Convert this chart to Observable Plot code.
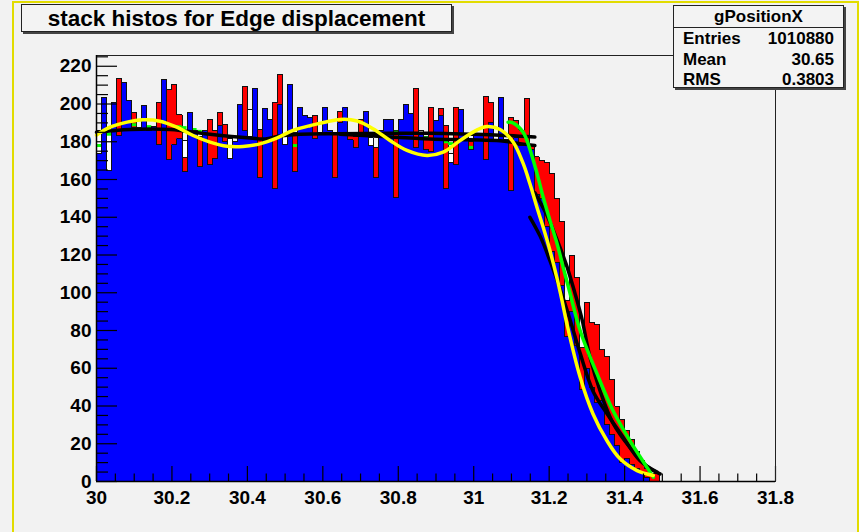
<!DOCTYPE html>
<html><head><meta charset="utf-8">
<script src="https://cdn.jsdelivr.net/npm/d3@7"></script>
<script src="https://cdn.jsdelivr.net/npm/@observablehq/plot@0.6"></script>
<style>
html,body{margin:0;padding:0;background:#f2f2f2;}
#wrap{position:relative;width:859px;height:532px;overflow:hidden;background:#f2f2f2;font-family:'Liberation Sans',Arial,Helvetica,sans-serif;font-weight:bold;color:#000}
#wrap svg{position:absolute;left:0;top:0}
.border{position:absolute;left:12px;top:1px;width:847px;height:600px;box-sizing:border-box;border:2px solid #e2dc00;pointer-events:none}
.title{position:absolute;left:21px;top:4px;width:431px;height:28px;box-sizing:border-box;border:1px solid #222;box-shadow:2px 2px 0 #444;background:#f3f3f3;font-size:22.5px;line-height:26px;padding-top:1px;text-align:center;white-space:nowrap}
.stats{position:absolute;left:673px;top:5px;width:171px;height:83px;box-sizing:border-box;border:1px solid #222;box-shadow:2px 2px 0 #444;background:#f3f3f3;font-size:17px}
.stats .hd{position:absolute;left:0;top:0;width:100%;height:21px;line-height:21px;text-align:center;border-bottom:1px solid #222}
.stats .row{position:absolute;left:9px;right:9px;height:20px;line-height:20px}
.stats .row span.v{position:absolute;right:0;top:0}
</style>
</head><body>
<div id="wrap">
  <div id="chart"></div>
  <div class="border"></div>
  <div class="title">stack histos for Edge displacement</div>
  <div class="stats">
    <div class="hd">gPositionX</div>
    <div class="row" style="top:23px"><span>Entries</span><span class="v">1010880</span></div>
    <div class="row" style="top:43.5px"><span>Mean</span><span class="v">30.65</span></div>
    <div class="row" style="top:64px"><span>RMS</span><span class="v">0.3803</span></div>
  </div>
</div>
<script>
// ---- histogram binning (bins of width 2/150 starting at 30) ----
const binLow = 30;
const binWidth = 2 / 150;

// blue histogram (front)
const blue = [
174, 203.6, 165, 201, 183.3, 211.6, 202, 187.7, 187.7, 199.2,
186, 188, 178.4, 213, 170.4, 178.4, 181.5, 164, 195.6, 186,
166.8, 186, 167.7, 171, 188.6, 180, 171, 180, 199.7, 186,
182.7, 208, 161.2, 197.5, 192, 155, 200, 178.6, 210.3, 164,
198, 194, 193, 181.5, 185, 198, 186, 161, 190, 198,
181, 177, 183, 196, 178, 161, 186, 192, 191.6, 150.6,
191.6, 200, 195, 177, 184, 176, 175, 191, 194, 155,
169, 168, 197, 184, 176, 184, 184, 170.5, 190, 181,
203.6, 181, 154, 182, 178, 179, 176, 152, 150, 135,
122, 116, 104, 77, 90, 72, 49, 60, 50, 42,
43, 30, 25, 19, 10, 12, 9, 7, 5, 2,
0, 0
];
// red histogram (behind blue) — only where it shows
const red = [
null, null, null, null, 213.4, null, null, 195.6, null, null,
null, null, 201, null, 207.5, 210.3, 194.4, 171.8, null, null,
182.7, null, 192, 186, 195.6, 189, null, null, null, 209.3,
null, null, 186.3, null, null, 201, 215.6, null, null, 185,
null, null, null, 194, null, null, null, 184, 196, null,
184, 183, 191.6, null, null, 177, null, null, null, 186,
null, null, null, 208, null, 183, 198, null, 197.5, 188.6,
null, 198, null, null, 180, null, null, 204, 201, null,
null, null, 193, 191, 186, 203, 178, 172, 170, 169,
163, 150, 138, 96, 120, 108, 71, 95, 84, 83,
70, 66, 54, 40, 33, 27, 22, 16, 11, 7,
4, 4
];
// white histogram (back-most)
const white = [
186, null, 184, null, null, null, null, null, null, null,
null, null, null, null, null, null, null, 180.6, null, null,
null, null, null, null, null, null, 181.5, null, null, null,
197, null, null, null, null, null, null, 184, null, null,
null, null, null, null, null, null, null, null, null, null,
null, null, null, null, 182, null, null, null, null, null,
null, null, null, null, 186, null, null, null, null, null,
174, null, null, null, null, null, null, null, null, null,
null, null, null, null, null, null, null, null, null, null,
null, null, null, null, null, null, null, null, null, null,
null, null, null, null, null, null, null, null, null, null,
null, null
];
// green histogram line (visible pieces)
const greenBin = [0, 2, 7, 10, 16, 17, 19, 20, 21, 39, 50, 59, 60, 64, 65, 69, 70, 74];
const greenVal = [178, 184, 189, 188, 188, 187.5, 186.5, 185.5, 185, 178, 180, 185, 185, 182, 182, 180, 179, 177];

// fitted curves
const yellowX = [30.00, 30.036, 30.081, 30.123, 30.168, 30.213, 30.256, 30.301, 30.346, 30.388, 30.433, 30.479, 30.521, 30.566, 30.646, 30.691, 30.733, 30.778, 30.823, 30.876, 30.919, 30.964, 31.009, 31.035, 31.070, 31.104, 31.131, 31.149, 31.168, 31.184, 31.202, 31.221, 31.234, 31.247, 31.282, 31.316, 31.353, 31.388, 31.433, 31.476];
const yellowY = [183.5, 187.7, 190.4, 191.6, 190.9, 187.7, 183.3, 179.8, 177.6, 177.5, 178.9, 182.1, 186, 188.5, 191.8, 191, 186.9, 180.7, 175.4, 172.7, 174.5, 180.7, 186.3, 188.1, 186.5, 180, 168.5, 157.7, 145, 134.8, 122.4, 107.5, 96, 83.5, 55.3, 35.9, 21.7, 12, 5.8, 3.2];
const greenFitX = [31.091, 31.104, 31.131, 31.149, 31.168, 31.184, 31.202, 31.221, 31.237, 31.255, 31.282, 31.327, 31.369, 31.414, 31.459, 31.476];
const greenFitY = [190.4, 190, 185, 176, 163, 150.7, 138.3, 126, 113.6, 100, 80, 57, 37.6, 21.7, 7.6, 2.3];
const blackOuterX = [31.162, 31.194, 31.221, 31.247, 31.268, 31.287, 31.308, 31.335, 31.369, 31.414, 31.459, 31.494];
const blackOuterY = [153, 141, 128, 114, 100, 86, 66, 48, 31, 18, 8, 4];
const blackInnerX = [31.149, 31.176, 31.202, 31.229, 31.255, 31.282, 31.316, 31.353, 31.396, 31.441, 31.486];
const blackInnerY = [140, 130, 117, 102, 86, 68, 48, 36, 23.5, 11, 5];
const blackFlat1X = [30.00, 30.089, 30.195, 30.301, 30.407, 30.447, 30.486, 30.540, 30.646, 30.778, 30.884, 30.990, 31.070, 31.162];
const blackFlat1Y = [185, 186.5, 186.5, 184, 182, 181.5, 183, 184, 184.3, 184.5, 184.5, 184, 183.5, 182.5];
const blackFlat2X = [30.646, 30.778, 30.884, 30.990, 31.070, 31.123, 31.162];
const blackFlat2Y = [184, 182.5, 181.5, 181, 180.5, 179, 178];

// axis ticks
const yMajor = [0, 20, 40, 60, 80, 100, 120, 140, 160, 180, 200, 220];
const xMajor = [30, 30.2, 30.4, 30.6, 30.8, 31, 31.2, 31.4, 31.6, 31.8];
const yMinor = d3.range(0, 226, 5).filter(v => v % 20 !== 0);
const xMinor = d3.range(0, 37).map(i => 30 + i * 0.05).filter((v, i) => i % 4 !== 0);

// ---- build ----
const edge = k => binLow + k * binWidth;
const bins = blue.map((b, k) => ({x1: edge(k), x2: edge(k + 1), blue: b, red: red[k], white: white[k]}));
const step = vals => {
  const pts = [{x: edge(0), y: 0}];
  vals.forEach((v, k) => pts.push({x: edge(k), y: v == null ? 0 : v}));
  pts.push({x: edge(vals.length), y: 0});
  return pts;
};
const pts = (xs, ys) => xs.map((x, i) => ({x, y: ys[i]}));
const greenSegs = greenBin.map((k, i) => ({x1: edge(k), x2: edge(k + 1), v: greenVal[i]}));

const W = 859, H = 532, mL = 96, mR = 84, mT = 55, mB = 51;
const fw = W - mL - mR, fh = H - mT - mB;
const outline = {curve: "step-after", stroke: "#111", strokeWidth: 1, shapeRendering: "crispEdges"};
const fit = c => ({x: "x", y: "y", curve: "catmull-rom", stroke: c, strokeWidth: 3.5, strokeLinecap: "round"});

const chart = Plot.plot({
  width: W, height: H,
  marginLeft: mL, marginRight: mR, marginTop: mT, marginBottom: mB,
  x: {domain: [30, 31.8]},
  y: {domain: [0, 225.7]},
  style: {background: "transparent", fontFamily: "'Liberation Sans', Arial, Helvetica, sans-serif", fontSize: "19px", fontWeight: "bold", color: "#000", overflow: "visible"},
  marks: [
    Plot.rect(bins.filter(d => d.white != null), {x1: "x1", x2: "x2", y1: 0, y2: "white", fill: "#ffffff", inset: 0, shapeRendering: "crispEdges"}),
    Plot.line(step(white), {x: "x", y: "y", ...outline}),
    Plot.rect(bins.filter(d => d.red != null), {x1: "x1", x2: "x2", y1: 0, y2: "red", fill: "#ff0000", inset: 0, shapeRendering: "crispEdges"}),
    Plot.line(step(red), {x: "x", y: "y", ...outline}),
    Plot.ruleY(greenSegs, {y: "v", x1: "x1", x2: "x2", stroke: "#00ff00", strokeWidth: 3}),
    Plot.rect(bins, {x1: "x1", x2: "x2", y1: 0, y2: "blue", fill: "#0000ff", inset: 0, shapeRendering: "crispEdges"}),
    Plot.line(step(blue), {x: "x", y: "y", ...outline}),
    Plot.line(pts(blackFlat1X, blackFlat1Y), fit("#000")),
    Plot.line(pts(blackFlat2X, blackFlat2Y), fit("#000")),
    Plot.line(pts(blackOuterX, blackOuterY), fit("#000")),
    Plot.line(pts(blackInnerX, blackInnerY), fit("#000")),
    Plot.line(pts(greenFitX, greenFitY), fit("#00ff00")),
    Plot.line(pts(yellowX, yellowY), fit("#ffff00")),
    Plot.ruleY(yMajor, {stroke: "#000", strokeWidth: 1.2, insetRight: fw - 21}),
    Plot.ruleY(yMinor, {stroke: "#000", strokeWidth: 1.2, insetRight: fw - 12}),
    Plot.ruleX(xMajor, {stroke: "#000", strokeWidth: 1.2, insetTop: fh - 15}),
    Plot.ruleX(xMinor, {stroke: "#000", strokeWidth: 1.2, insetTop: fh - 7.5}),
    Plot.axisY(yMajor, {tickSize: 0, tickPadding: 5, label: null}),
    Plot.axisX(xMajor, {tickSize: 0, tickPadding: 9, label: null, tickFormat: d => String(Math.round(d * 10) / 10)}),
    Plot.frame({stroke: "#222", strokeWidth: 1}),
    Plot.ruleX([30], {stroke: "#000", strokeWidth: 1.5}),
    Plot.ruleY([0], {stroke: "#000", strokeWidth: 1.5})
  ]
});
document.getElementById("chart").appendChild(chart);
</script>
</body></html>
